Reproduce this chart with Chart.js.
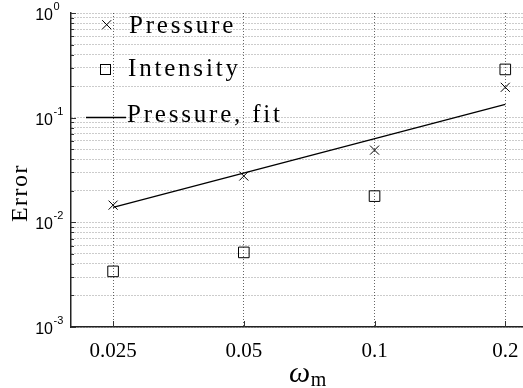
<!DOCTYPE html>
<html><head><meta charset="utf-8">
<script src="https://cdn.jsdelivr.net/npm/chart.js@4.4.1/dist/chart.umd.min.js"></script>
<style>
html,body{margin:0;padding:0;background:#fff;overflow:hidden}
#wrap{position:relative;width:523px;height:388px}
</style></head>
<body><div id="wrap"><canvas id="c" width="523" height="388"></canvas></div>
<script>
/* ---------- data ---------- */
const omega     = [0.025, 0.05, 0.1, 0.2];
const pressure  = [0.0146, 0.0277, 0.049, 0.195];
const intensity = [0.0034, 0.00516, 0.0178, 0.289];
const fitX      = [0.025, 0.2];
const fitY      = [0.0139, 0.1337];
const xTicks    = [0.025, 0.05, 0.1, 0.2];
const yDecades  = [1e-3, 1e-2, 1e-1, 1];
const yExps     = ['-3', '-2', '-1', '0'];
const names     = ['Pressure', 'Intensity', 'Pressure, fit'];

/* all minor positions 1..9 x 10^k for the dotted grid */
const yMinor = [];
yDecades.slice(0, -1).forEach(d => { for (let m = 1; m <= 9; m++) yMinor.push(+(d * m).toPrecision(3)); });
yMinor.push(1);

const SERIF = '"Liberation Serif", "Times New Roman", serif';
const SANS  = '"Liberation Sans", Arial, sans-serif';

/* ---------- extra drawing: inward ticks, 10^n labels, titles, legend ---------- */
const decor = {
  id: 'decor',
  afterDraw(chart){
    const ctx = chart.ctx, xs = chart.scales.x, ys = chart.scales.y;
    const a = chart.chartArea;
    ctx.save();
    ctx.strokeStyle = '#333'; ctx.lineWidth = 1;
    // inward ticks on y
    ys.ticks.forEach(t => {
      const py = Math.round(ys.getPixelForValue(t.value)) + 0.5;
      const major = yDecades.some(d => Math.abs(d - t.value) < d * 1e-6);
      ctx.beginPath(); ctx.moveTo(a.left, py); ctx.lineTo(a.left + (major ? 5 : 3), py); ctx.stroke();
    });
    // inward ticks on x
    xTicks.forEach(v => {
      const px = Math.round(xs.getPixelForValue(v)) + 0.5;
      ctx.beginPath(); ctx.moveTo(px, a.bottom); ctx.lineTo(px, a.bottom - 6); ctx.stroke();
    });
    // y tick labels 10^n
    ctx.fillStyle = '#000';
    yDecades.forEach((d, i) => {
      const py = ys.getPixelForValue(d);
      ctx.font = '16px ' + SANS; ctx.textAlign = 'right'; ctx.textBaseline = 'alphabetic';
      ctx.fillText('10', 53, py + 7);
      ctx.font = '11px ' + SANS; ctx.textAlign = 'left';
      ctx.fillText(yExps[i], 53.5, py - 3);
    });
    // y title
    ctx.save();
    ctx.translate(26.5, 193); ctx.rotate(-Math.PI / 2);
    ctx.font = '24px ' + SERIF; ctx.letterSpacing = '1.5px';
    ctx.textAlign = 'center'; ctx.textBaseline = 'alphabetic';
    ctx.fillText('Error', 0, 0);
    ctx.restore();
    // x title omega_m
    ctx.textAlign = 'left'; ctx.textBaseline = 'alphabetic';
    ctx.font = 'italic 30px ' + SERIF;
    ctx.fillText('ω', 289, 382);
    const wo = ctx.measureText('ω').width;
    ctx.font = '20px ' + SERIF; ctx.letterSpacing = '0.5px';
    ctx.fillText('m', 289 + wo + 0.5, 386);
    ctx.letterSpacing = '0px';

    // legend (no box, grid shows through)
    ctx.font = '25px ' + SERIF; ctx.letterSpacing = '2.8px';
    ctx.lineWidth = 1; ctx.strokeStyle = '#000';
    // x marker
    ctx.beginPath();
    ctx.moveTo(102.2, 20.2); ctx.lineTo(111.2, 29.2);
    ctx.moveTo(111.2, 20.2); ctx.lineTo(102.2, 29.2); ctx.stroke();
    ctx.fillText(names[0], 129, 33);
    // square marker
    ctx.strokeRect(100.5, 64.5, 10, 10);
    ctx.fillText(names[1], 128, 76);
    // line
    ctx.lineWidth = 1.3;
    ctx.beginPath(); ctx.moveTo(86, 117.5); ctx.lineTo(126, 117.5); ctx.stroke();
    ctx.fillText(names[2], 127, 122);
    ctx.restore();
  }
};

new Chart(document.getElementById('c'), {
  type: 'scatter',
  data: {
    datasets: [
      { label: names[0], data: omega.map((x, i) => ({x, y: pressure[i]})),
        pointStyle: 'crossRot', pointRadius: 6.4, borderColor: '#000', borderWidth: 1, showLine: false },
      { label: names[1], data: omega.map((x, i) => ({x, y: intensity[i]})),
        pointStyle: 'rect', pointRadius: 7.5, borderColor: '#000', backgroundColor: 'rgba(0,0,0,0)', borderWidth: 1, showLine: false },
      { label: names[2], data: fitX.map((x, i) => ({x, y: fitY[i]})),
        showLine: true, pointRadius: 0, borderColor: '#000', borderWidth: 1.3, fill: false }
    ]
  },
  options: {
    responsive: false, animation: false, devicePixelRatio: 1,
    layout: { autoPadding: false, padding: { top: 13, left: 0, right: 0, bottom: 0 } },
    plugins: { legend: { display: false }, tooltip: { enabled: false } },
    scales: {
      x: {
        type: 'logarithmic', min: 0.02, max: 0.2197,
        afterBuildTicks: s => { s.ticks = xTicks.map(v => ({ value: v })); },
        afterFit: s => { s.height = 61; s.paddingLeft = 0; s.paddingRight = 0; },
        ticks: { callback: v => String(v), autoSkip: false, maxRotation: 0, padding: 12,
                 color: '#000', font: { family: SERIF, size: 21 } },
        grid: { color: 'rgba(0,0,0,0.6)', lineWidth: 1, drawTicks: false },
        border: { display: true, color: '#222', width: 1.5, dash: [1, 2] }
      },
      y: {
        type: 'logarithmic', min: 0.001, max: 1,
        afterBuildTicks: s => { s.ticks = yMinor.map(v => ({ value: v })); },
        afterFit: s => { s.width = 71; s.paddingTop = 0; s.paddingBottom = 0; },
        ticks: { display: false },
        grid: { color: 'rgba(0,0,0,0.4)', lineWidth: 1, drawTicks: false },
        border: { display: true, color: '#222', width: 1.5, dash: [1, 2] }
      }
    }
  },
  plugins: [decor]
});
</script>
</body></html>
